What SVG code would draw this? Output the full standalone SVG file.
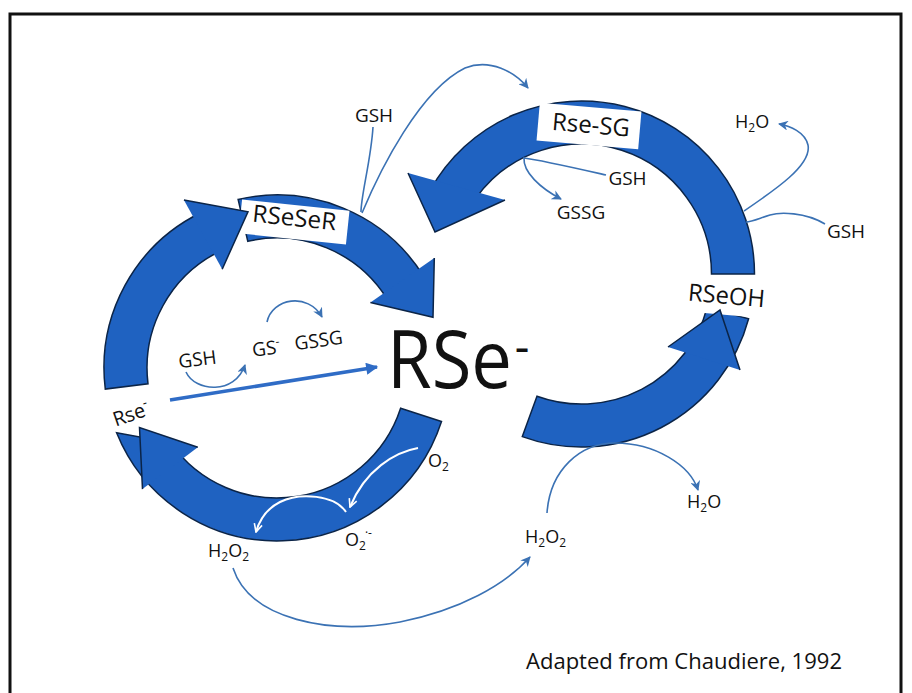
<svg xmlns="http://www.w3.org/2000/svg" width="912" height="693" viewBox="0 0 912 693">
<style>
.band{fill:#1f62c1;stroke:#0b2447;stroke-width:1.5;stroke-linejoin:miter}
.box{fill:#fff}
.lbl{font-family:"Open Sans","Liberation Sans",sans-serif;fill:#111}
.thin{fill:none;stroke:#3b72b4;stroke-width:1.6}
.wht{fill:none;stroke:#fff;stroke-width:2}
</style>
<defs>
<marker id="ah" viewBox="0 0 10 10" refX="9" refY="5" markerWidth="10" markerHeight="10" markerUnits="userSpaceOnUse" orient="auto"><path d="M0,0 L10,5 L0,10 L3,5 z" fill="#3b72b4"/></marker>
<marker id="ahb" viewBox="0 0 10 10" refX="9" refY="5" markerWidth="14" markerHeight="12" markerUnits="userSpaceOnUse" orient="auto"><path d="M0,0 L10,5 L0,10 z" fill="#2f6cc6"/></marker>
<marker id="ahw" viewBox="0 0 10 10" refX="9" refY="5" markerWidth="10" markerHeight="10" markerUnits="userSpaceOnUse" orient="auto"><path d="M1,1 L9,5 L1,9" fill="none" stroke="#fff" stroke-width="1.6"/></marker>
</defs>
<rect x="0" y="0" width="912" height="693" fill="#fff"/>
<path d="M10,693 L10,14 L901,14 L901,693" fill="none" stroke="#111" stroke-width="3"/>

<g id="ring-bands">
<path class="band" d="M105.3,389.1 A173,173 0 0 1 201.2,212.5 L220,251.2 A130,130 0 0 0 148,383.8 Z"/>
<path class="band" d="M238.1,199.4 A173,173 0 0 1 423.7,276.3 L387.2,299.1 A130,130 0 0 0 247.8,241.3 Z"/>
<path class="band" d="M441.5,421.5 A173,173 0 0 1 116.6,432.8 L170.5,442.6 A130,130 0 0 0 400.6,408.2 Z"/>
<path class="band" d="M430.2,190.1 A173,173 0 0 1 754.5,274 L711.5,274 A130,130 0 0 0 476.3,197.6 Z"/>
<path class="band" d="M748.6,318.8 A173,173 0 0 1 522.3,436.6 L537,396.2 A130,130 0 0 0 707.1,307.6 Z"/>
</g>

<g id="RSeSeR" transform="rotate(6 294 222)">
<rect class="box" x="240" y="205" width="108" height="34"/>
<text class="lbl" x="294" y="226" font-size="24" text-anchor="middle" textLength="84" lengthAdjust="spacingAndGlyphs">RSeSeR</text>
</g>
<g id="RseSG" transform="rotate(5 589 126)">
<rect class="box" x="538" y="107" width="102" height="38"/>
<text class="lbl" x="591" y="133" font-size="24" text-anchor="middle" textLength="78" lengthAdjust="spacingAndGlyphs">Rse-SG</text>
</g>
<g id="RSeOH" transform="rotate(5 727 296)">
<rect class="box" x="686" y="277" width="82" height="38"/>
<text class="lbl" x="726.5" y="304" font-size="24" text-anchor="middle" textLength="77" lengthAdjust="spacingAndGlyphs">RSeOH</text>
</g>

<g id="ring-heads">
<path class="band" d="M183.9,200.1 L248,211.7 L222.2,269.2"/>
<path class="band" d="M434.3,257.9 L433,317.3 L370.4,302.6"/>
<path class="band" d="M142.5,489.1 L139.5,427.5 L197.8,447.2"/>
<path class="band" d="M408,173 L435,232 L505,200"/>
<path class="band" d="M668,347 L720,310 L740,370"/>
</g>

<g id="connectors">
<path class="thin" d="M373,127 C371,160 361,195 361,212"/>
<path class="thin" d="M362,213 C380,170 420,90 465,68 C490,58 515,72 528,88" marker-end="url(#ah)"/>
<path class="thin" d="M606,175 C575,168 540,160 524,158 C523,172 540,188 561,199" marker-end="url(#ah)"/>
<path class="thin" d="M744,211 C775,190 812,165 808,145 C805,132 790,126 779,124" marker-end="url(#ah)"/>
<path class="thin" d="M825,224 C805,212 780,212 770,215 C760,218 752,222 746,222"/>
<path class="thin" d="M186,372 C195,392 235,395 245,365" marker-end="url(#ah)"/>
<path class="thin" d="M267,322 C272,298 308,292 322,317" marker-end="url(#ah)"/>
<path d="M170,400 L377,367" fill="none" stroke="#2f6cc6" stroke-width="3.5" marker-end="url(#ahb)"/>
<path class="thin" d="M233,568 C250,620 330,635 400,622 C460,610 505,585 530,557" marker-end="url(#ah)"/>
<path class="thin" d="M547,513 C550,470 580,443 615,443 C655,443 690,465 698,490" marker-end="url(#ah)"/>
<path class="wht" d="M418,448 C395,452 365,470 350,507" marker-end="url(#ahw)"/>
<path class="wht" d="M346,512 C335,495 300,492 280,502 C268,508 260,518 256,532" marker-end="url(#ahw)"/>
</g>

<g id="RSe-center">
<text class="lbl" x="387" y="388" font-size="80" transform="translate(387 0) scale(0.905 1) translate(-387 0)">RSe<tspan dx="3" dy="-24" font-size="50">-</tspan></text>
</g>
<g id="Rse-left" transform="rotate(-19 131 414)">
<text class="lbl" x="131" y="421" font-size="20" text-anchor="middle">Rse<tspan dy="-9" font-size="13">-</tspan></text>
</g>
<g id="labels">
<text class="lbl" x="374" y="122" font-size="19" text-anchor="middle">GSH</text>
<text class="lbl" x="735" y="128" font-size="18">H<tspan dy="4" font-size="12">2</tspan><tspan dy="-4">O</tspan></text>
<text class="lbl" x="627.5" y="185" font-size="19" text-anchor="middle">GSH</text>
<text class="lbl" x="581" y="219" font-size="19" text-anchor="middle">GSSG</text>
<text class="lbl" x="846" y="238" font-size="19" text-anchor="middle">GSH</text>
<text class="lbl" x="197.5" y="366" font-size="19" text-anchor="middle" transform="rotate(-7 197.5 360)">GSH</text>
<text class="lbl" x="252" y="355" font-size="19" transform="rotate(-7 266 348)">GS<tspan dy="-8" font-size="12">-</tspan></text>
<text class="lbl" x="318.5" y="347" font-size="19" text-anchor="middle" transform="rotate(-8 318.5 340)">GSSG</text>
<text class="lbl" x="428" y="467" font-size="18">O<tspan dy="4" font-size="12">2</tspan></text>
<text class="lbl" x="345" y="546" font-size="18">O<tspan dy="4" font-size="12">2</tspan><tspan dy="-13" dx="-1" font-size="12">·-</tspan></text>
<text class="lbl" x="208" y="557" font-size="18">H<tspan dy="4" font-size="12">2</tspan><tspan dy="-4">O</tspan><tspan dy="4" font-size="12">2</tspan></text>
<text class="lbl" x="525" y="543" font-size="18">H<tspan dy="4" font-size="12">2</tspan><tspan dy="-4">O</tspan><tspan dy="4" font-size="12">2</tspan></text>
<text class="lbl" x="687" y="508" font-size="18">H<tspan dy="4" font-size="12">2</tspan><tspan dy="-4">O</tspan></text>
<text class="lbl" x="526" y="669" font-size="22" textLength="316" lengthAdjust="spacingAndGlyphs">Adapted from Chaudiere, 1992</text>
</g>
</svg>
